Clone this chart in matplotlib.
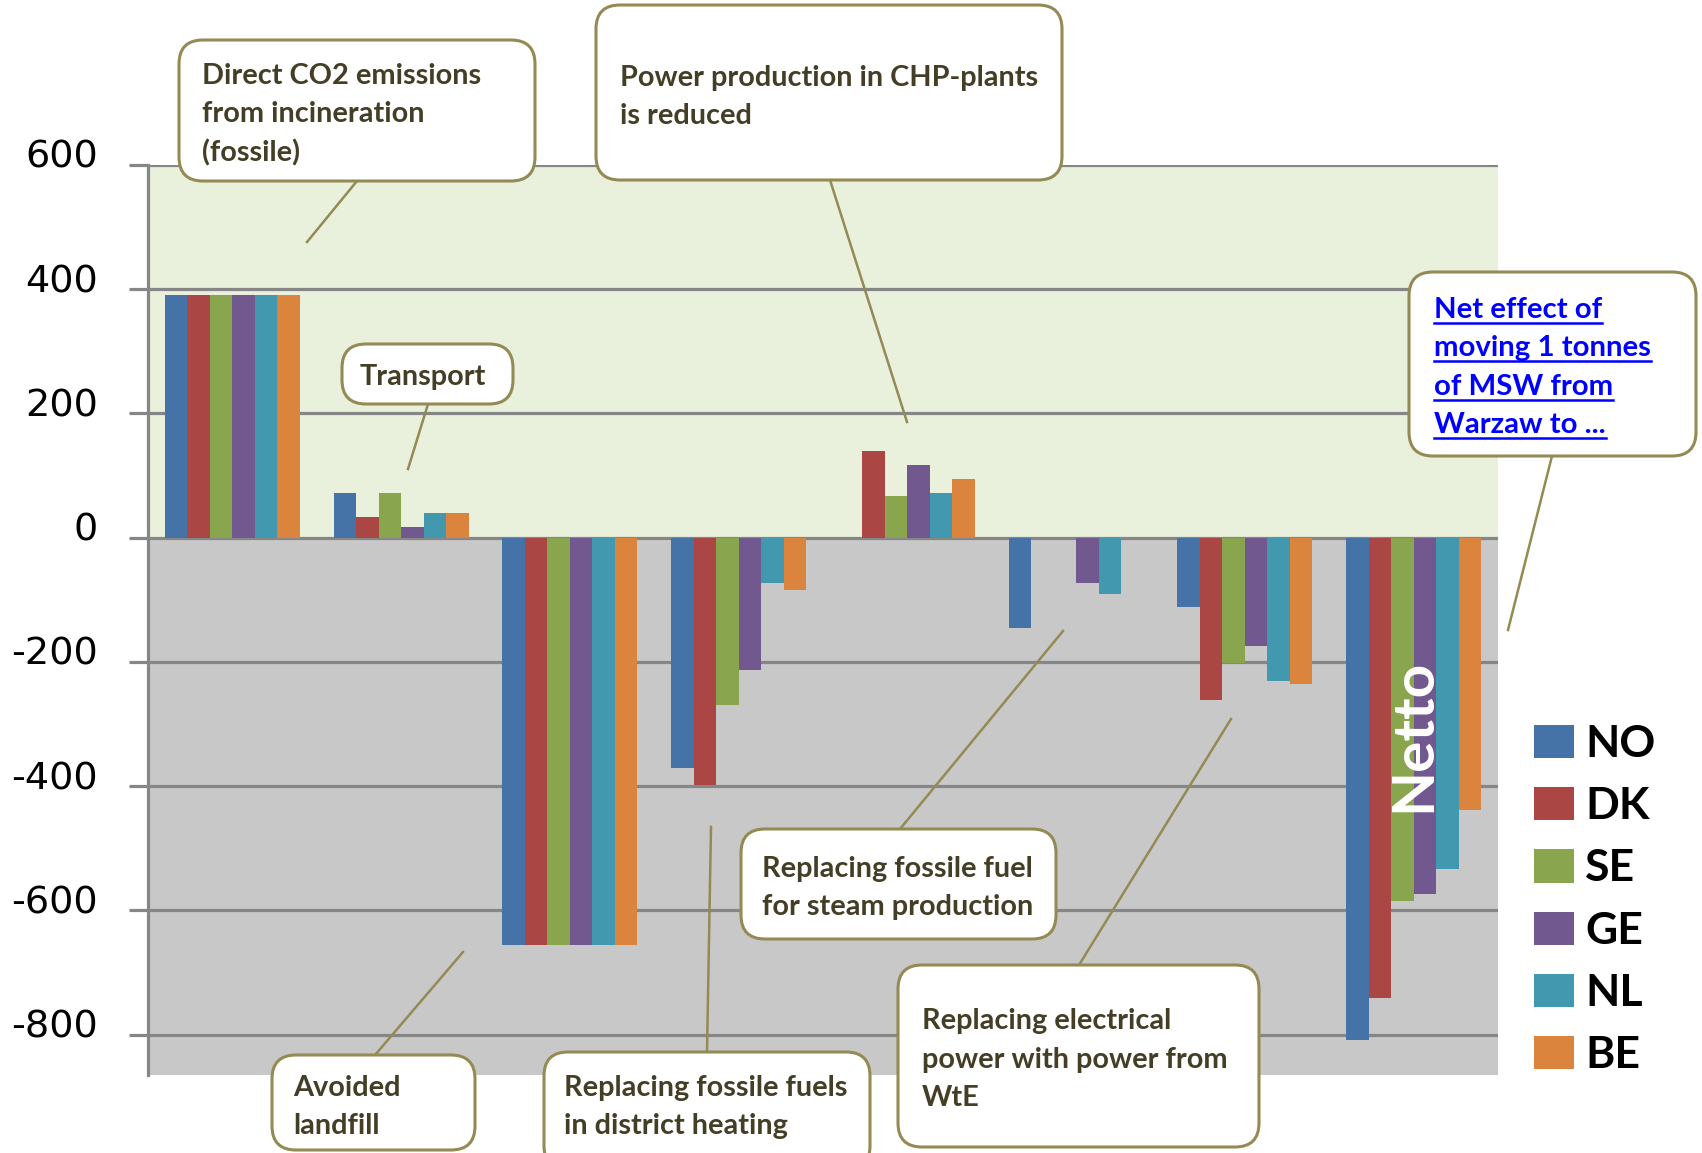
import matplotlib
matplotlib.use('Agg')
import matplotlib.pyplot as plt
import matplotlib.transforms as mtransforms
from matplotlib.patches import FancyBboxPatch
import numpy as np


### Data ###

categories = ['Direct CO2 emissions', 'Transport', 'Avoided landfill',
              'District heating', 'CHP power reduced', 'Steam production',
              'Electrical power', 'Netto']
countries = ['NO', 'DK', 'SE', 'GE', 'NL', 'BE']
no_vals = [390, 72, -655, -370, 0, -146, -112, -808]
dk_vals = [390, 33, -655, -398, 139, 0, -262, -741]
se_vals = [390, 72, -655, -269, 67, 0, -202, -585]
ge_vals = [390, 17, -655, -213, 117, -73, -174, -573]
nl_vals = [390, 39, -655, -73, 72, -90, -230, -534]
be_vals = [390, 39, -655, -85, 94, 0, -236, -439]
series = [no_vals, dk_vals, se_vals, ge_vals, nl_vals, be_vals]
yticks = [-800, -600, -400, -200, 0, 200, 400, 600]

colors = ['#4572A7', '#AA4643', '#89A54E', '#71588F', '#4198AF', '#DB843D']
grid_col = '#868686'
box_col = '#948A54'
txt_col = '#433E25'

# callouts: lines, left x, baselines, box (x0, y0, x1, y1), pointer (x0, y0, x1, y1), in figure pixels
callouts = [
    (['Direct CO2 emissions', 'from incineration', '(fossile)'], 202, [84, 122, 161],
     (179, 40, 535, 181), (357, 181, 307, 242)),
    (['Power production in CHP-plants', 'is reduced'], 620, [86, 124],
     (596, 5, 1062, 180), (830, 180, 907, 422)),
    (['Transport'], 360, [385],
     (342, 344, 513, 404), (428, 404, 408, 469)),
    (['Avoided', 'landfill'], 293, [1096, 1134],
     (272, 1055, 475, 1150), (375, 1055, 463, 952)),
    (['Replacing fossile fuels', 'in district heating'], 564, [1096, 1134],
     (544, 1052, 870, 1170), (707, 1052, 711, 827)),
    (['Replacing fossile fuel', 'for steam production'], 762, [877, 915],
     (741, 829, 1056, 939), (900, 829, 1063, 631)),
    (['Replacing electrical', 'power with power from', 'WtE'], 922, [1029, 1068, 1106],
     (898, 965, 1259, 1147), (1079, 965, 1231, 719)),
]
link_lines = ['Net effect of', 'moving 1 tonnes', 'of MSW from', 'Warzaw to ...']
link_x = 1434
link_base = [318, 356, 395, 433]
link_box = (1409, 272, 1696, 456)
link_ptr = (1552, 456, 1508, 630)


### Plot ###

W, H = 1702, 1153
fig = plt.figure(figsize=(W / 100, H / 100), dpi=100)
ax = fig.add_axes([148 / W, (H - 1075) / H, 1350 / W, 910 / H])

ax.axhspan(0, 600, color='#E9F0DC', zorder=0, lw=0)
ax.axhspan(-865, 0, color='#C8C8C8', zorder=0, lw=0)

x = np.arange(len(categories))
n = len(countries)
bw = 0.8 / n
for i, (name, vals) in enumerate(zip(countries, series)):
    ax.bar(x + (i - (n - 1) / 2) * bw, vals, width=bw, color=colors[i],
           label=name, zorder=3, linewidth=0)

ax.set_xlim(-0.5, len(categories) - 0.5)
ax.set_ylim(-865, 600)
ax.set_xticks([])
ax.set_yticks(yticks)
ax.set_yticklabels([str(t) for t in yticks])
for t in yticks:
    ax.axhline(t, color=grid_col, lw=2.3, zorder=1)
for s in ['top', 'right', 'bottom']:
    ax.spines[s].set_visible(False)
ax.spines['left'].set_color(grid_col)
ax.spines['left'].set_linewidth(2.3)
ax.spines['left'].set_zorder(4)
ax.tick_params(axis='y', length=14, width=2.3, color=grid_col, pad=22,
               labelsize=27.5, labelcolor='black')
shift = mtransforms.ScaledTranslation(0, 8 / 72, fig.dpi_scale_trans)
for lab in ax.get_yticklabels():
    lab.set_transform(lab.get_transform() + shift)
ax.set_facecolor('none')

ax.text(x[-1], -318, 'Netto', rotation=90, ha='center', va='center',
        color='white', fontsize=42, fontweight='bold', family='Lato', zorder=5)

leg = ax.legend(loc='upper left', bbox_to_anchor=(1534 / W, 1 - 724 / H),
                bbox_transform=fig.transFigure, frameon=False, borderpad=0,
                prop={'family': 'Lato', 'weight': 'bold', 'size': 32},
                handlelength=0.9, handleheight=0.77, handletextpad=0.25,
                labelspacing=0.5, borderaxespad=0)

# overlay for the callouts, in pixels
ov = fig.add_axes([0, 0, 1, 1], zorder=10)
ov.set_xlim(0, W)
ov.set_ylim(H, 0)
ov.axis('off')
ov.patch.set_alpha(0)


def draw_box(box, ptr):
    x0, y0, x1, y1 = box
    ov.add_patch(FancyBboxPatch((x0, y0), x1 - x0, y1 - y0,
                                boxstyle='round,pad=0,rounding_size=24',
                                fc='white', ec=box_col, lw=2.2, zorder=2))
    ov.plot([ptr[0], ptr[2]], [ptr[1], ptr[3]], color=box_col, lw=1.8, zorder=1)


for lines, lx, bases, box, ptr in callouts:
    draw_box(box, ptr)
    for line, b in zip(lines, bases):
        ov.text(lx, b, line, ha='left', va='baseline', color=txt_col,
                fontsize=20.8, fontweight='bold', family='Lato', zorder=3)

draw_box(link_box, link_ptr)
link_texts = []
for line, b in zip(link_lines, link_base):
    link_texts.append(ov.text(link_x, b, line, ha='left', va='baseline', color='#0000FF',
                              fontsize=21.2, fontweight='bold', family='Lato', zorder=3))
fig.canvas.draw()
renderer = fig.canvas.get_renderer()
for t, b in zip(link_texts, link_base):
    bb = t.get_window_extent(renderer)
    ov.plot([link_x, link_x + bb.width], [b + 5, b + 5], color='#0000FF', lw=1.8, zorder=3)

plt.savefig('out.png', dpi=100)
